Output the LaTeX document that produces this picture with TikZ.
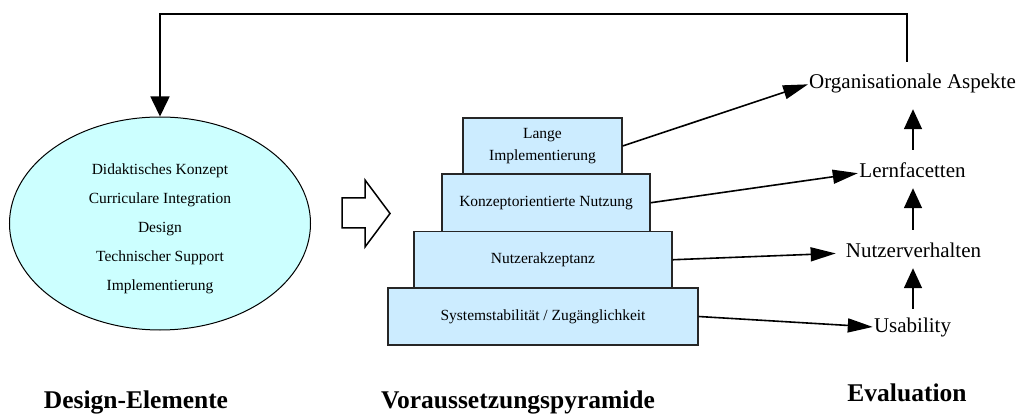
\documentclass[tikz,border=0pt]{standalone}
\usepackage{fontspec}
\setmainfont{Liberation Serif}
\usetikzlibrary{arrows.meta,shapes.geometric}
\definecolor{ellfill}{RGB}{204,255,255}
\definecolor{boxfill}{RGB}{204,236,255}
\tikzset{
  pbox/.style={draw=black!85, line width=1.2pt, fill=boxfill, align=center,
    font=\fontsize{15.5}{22}\selectfont, inner sep=0pt},
  evtext/.style={font=\fontsize{21}{24}\selectfont, inner sep=0pt,
    text height=15pt, text depth=5pt, anchor=base},
  ttl/.style={font=\fontsize{25.5}{28}\selectfont\bfseries, inner sep=0pt, anchor=base},
  conn/.style={line width=1.6pt, -{Triangle[length=25pt,width=14pt]}},
  vconn/.style={line width=1.6pt, -{Triangle[length=20pt,width=18pt]}},
}
\begin{document}
\begin{tikzpicture}[x=1pt,y=-1pt]
\useasboundingbox (0,0) rectangle (1018,414);

% ellipse
\node[ellipse, draw, line width=1pt, fill=ellfill, minimum width=301pt, minimum height=213pt,
      inner sep=0pt] (ell) at (160,223.5) {};
\node[align=center, font=\fontsize{15.5}{29}\selectfont, inner sep=0pt] (elltxt) at (160,229)
  {Didaktisches Konzept\\Curriculare Integration\\Design\\Technischer Support\\Implementierung};

% block arrow
\draw[line width=1.5pt, fill=white, line join=miter]
  (342,198) -- (365,198) -- (365,180) -- (390,213.5) -- (365,247) -- (365,228) -- (342,228) -- cycle;

% pyramid
\node[pbox, minimum width=310pt, minimum height=57pt] (b4) at (543,316.5) {Systemstabilität / Zugänglichkeit};
\node[pbox, minimum width=258pt, minimum height=56.5pt] (b3) at (543,259.75) {Nutzerakzeptanz};
\node[pbox, minimum width=208pt, minimum height=57.5pt] (b2) at (546,202.75) {Konzeptorientierte Nutzung};
\node[pbox, minimum width=159pt, minimum height=56pt] (b1) at (542.5,146) {Lange\\[0pt]Implementierung};

% evaluation items
\node[evtext] (org) at (912.5,89) {Organisationale Aspekte};
\node[evtext] (lern) at (912.5,178) {Lernfacetten};
\node[evtext] (nutz) at (913.5,258) {Nutzerverhalten};
\node[evtext] (usab) at (912.5,332) {Usability};

% connectors
\draw[conn, shorten >=1pt] (b1.east) -- (org.west);
\draw[conn, shorten >=1.5pt] (b2.east) -- (lern.west);
\draw[conn, shorten >=10pt] (b3.east) -- (nutz.west);
\draw[conn, shorten >=1pt] (b4.east) -- (usab.west);

\draw[vconn, shorten <=8pt, shorten >=5pt] ([xshift=0.5pt]usab.north) -- ([xshift=0.5pt]usab.north |- nutz.south);
\draw[vconn, shorten <=13pt, shorten >=5pt] ([xshift=-0.5pt]nutz.north) -- ([xshift=-0.5pt]nutz.north |- lern.south);
\draw[vconn, shorten <=13pt, shorten >=15pt] ([xshift=0.5pt]lern.north) -- ([xshift=0.5pt]lern.north |- org.south);

% feedback
\coordinate (fb) at (907,14);
\draw[line width=1.6pt, -{Triangle[length=20pt,width=19pt]}]
  ([xshift=-5.5pt,yshift=12pt]org.north) |- (fb) -| (ell.north);

% titles
\node[ttl] (t1) at (136,408) {Design-Elemente};
\node[ttl] (t2) at (518,408) {Voraussetzungspyramide};
\node[ttl] (t3) at (907,401) {Evaluation};
\end{tikzpicture}
\end{document}
